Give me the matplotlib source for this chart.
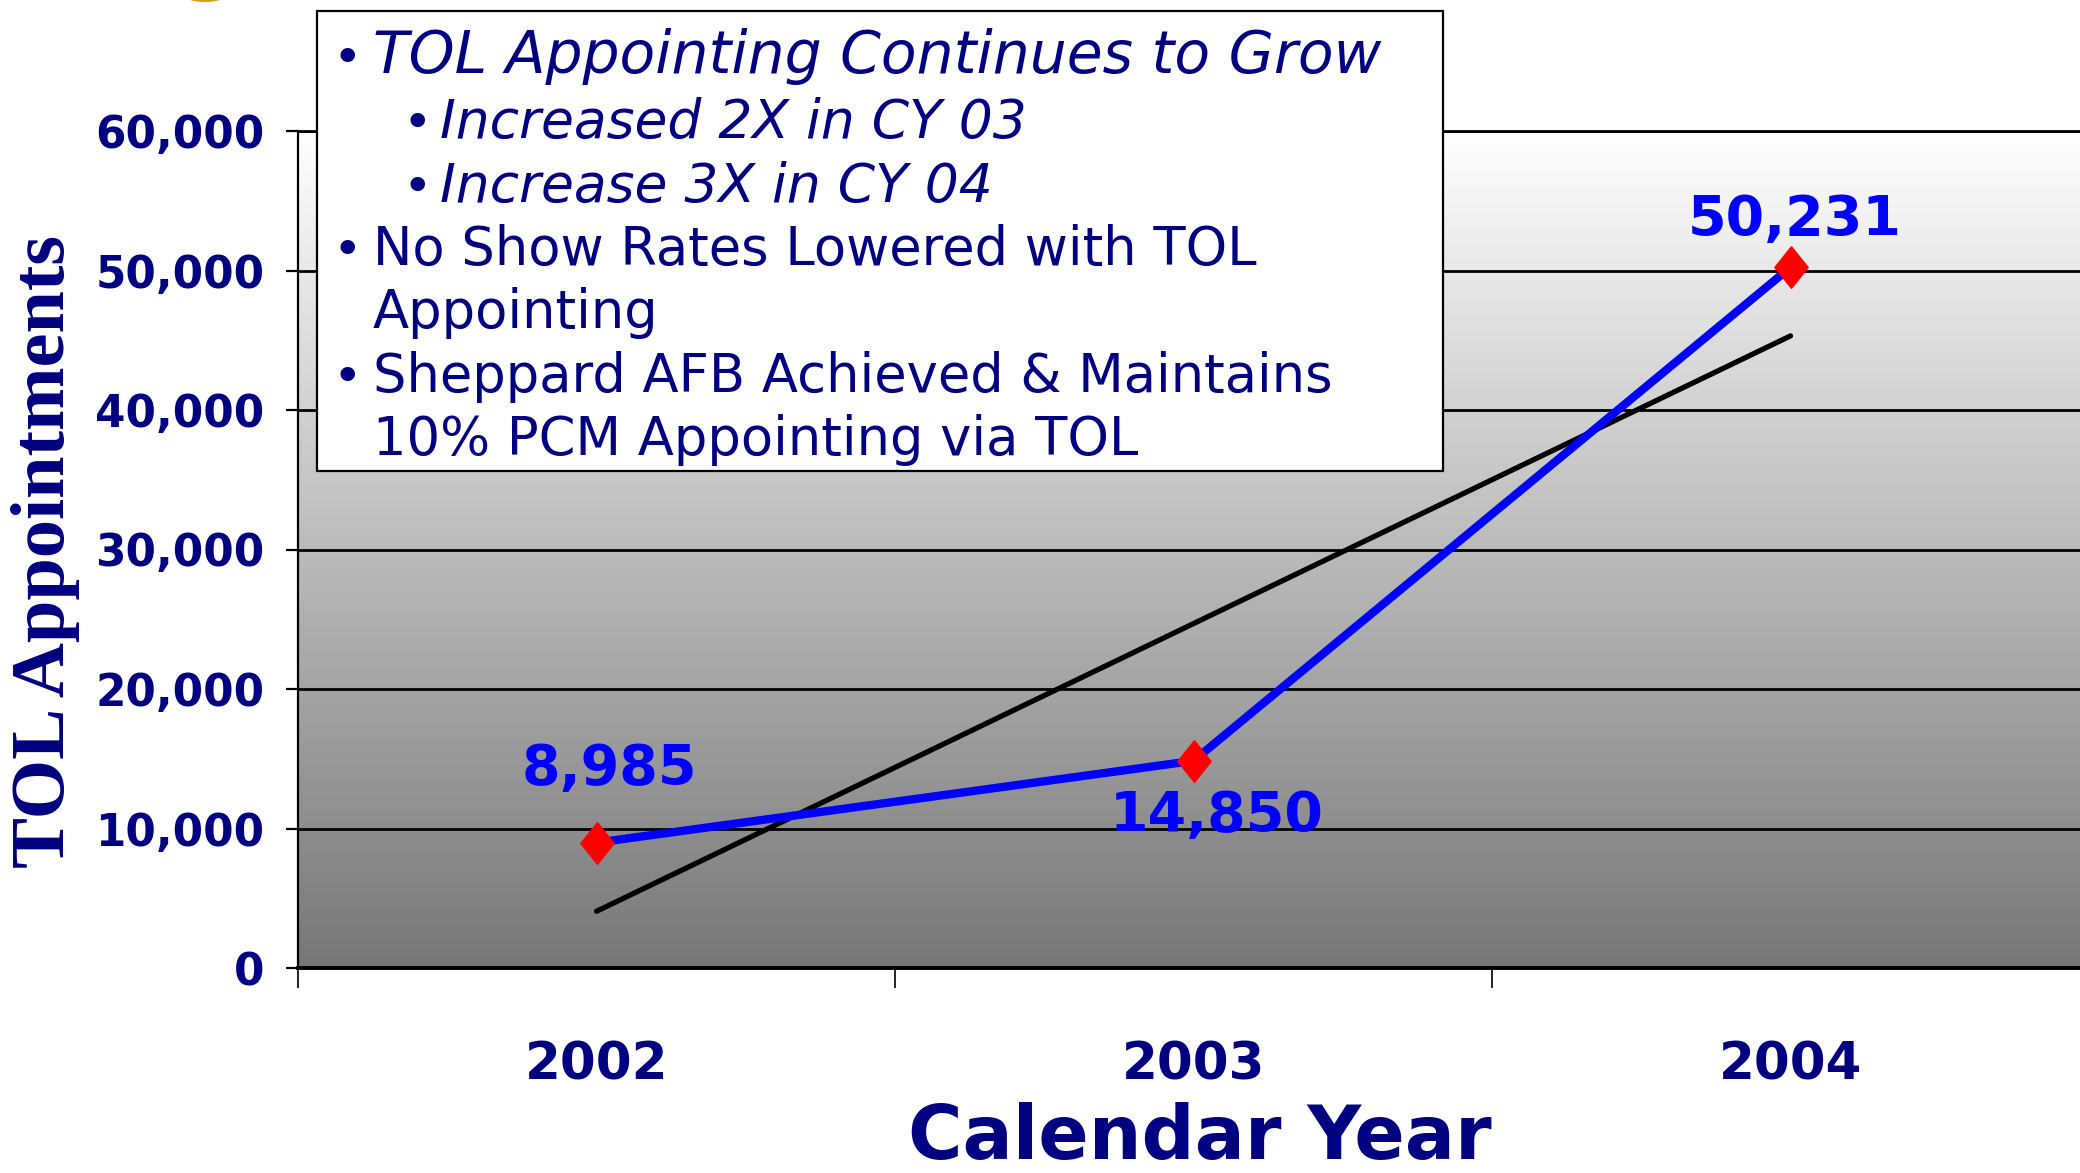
import numpy as np
import matplotlib.pyplot as plt
from matplotlib.patches import Rectangle, Ellipse
from matplotlib.colors import LinearSegmentedColormap

# chart data
years = ["2002", "2003", "2004"]
appointments = [8985, 14850, 50231]
point_labels = ["8,985", "14,850", "50,231"]
label_offsets = [(9, 53), (17, -40), (3, 34)]  # points, label centre vs marker

y_ticks = [0, 10000, 20000, 30000, 40000, 50000, 60000]
y_tick_labels = ["0", "10,000", "20,000", "30,000", "40,000", "50,000", "60,000"]

# text box: (text, indent level, italic, has bullet)
box_lines = [
    ("TOL Appointing Continues to Grow", 0, True, True),
    ("Increased 2X in CY 03", 1, True, True),
    ("Increase 3X in CY 04", 1, True, True),
    ("No Show Rates Lowered with TOL", 0, False, True),
    ("Appointing", 0, False, False),
    ("Sheppard AFB Achieved & Maintains", 0, False, True),
    ("10% PCM Appointing via TOL", 0, False, False),
]

W, H = 2080, 1173
navy = "#000080"
blue = "#0000FF"
red = "#FF0000"


def fx(px):
    return px / W


def fy(py):
    return 1 - py / H


fig = plt.figure(figsize=(W / 100, H / 100), dpi=100)
fig.patch.set_facecolor("white")

# axes runs a little past the right edge, as in the slide
ax = fig.add_axes([fx(298), fy(968), 1791 / W, (968 - 131) / H])

x = np.arange(len(years))

# grey gradient plot area
cmap = LinearSegmentedColormap.from_list("bg", ["#ffffff", "#777777"])
ax.imshow(np.linspace(0, 1, 256).reshape(-1, 1), extent=[-0.5, 2.5, 0, 60000],
          aspect="auto", cmap=cmap, zorder=0)

# linear trend
coef = np.polyfit(x, appointments, 1)
trend = np.polyval(coef, x)
ax.plot([x[0], x[-1]], [trend[0], trend[-1]], color="black", lw=3.8,
        solid_capstyle="round", zorder=3)

diamond = [(0, 1), (0.8, 0), (0, -1), (-0.8, 0), (0, 1)]
ax.plot(x, appointments, color=blue, lw=6, zorder=4)
ax.plot(x, appointments, ls="none", marker=diamond, ms=30, mfc=red, mec=red, zorder=5)

for xi, yi, lab, off in zip(x, appointments, point_labels, label_offsets):
    ax.annotate(lab, (xi, yi), xytext=off, textcoords="offset points",
                ha="center", va="center", color=blue, fontsize=40,
                fontweight="bold", zorder=6)

ax.set_xlim(-0.5, 2.5)
ax.set_ylim(0, 60000)

ax.set_yticks(y_ticks)
ax.set_yticklabels(y_tick_labels)
ax.yaxis.grid(True, color="black", lw=2)
ax.set_axisbelow(True)
ax.tick_params(axis="y", direction="out", length=9, width=1.6, pad=15,
               labelsize=31.5, labelcolor=navy)
for t in ax.get_yticklabels():
    t.set_fontweight("bold")

ax.set_xticks(x)
ax.set_xticklabels(years)
ax.set_xticks([-0.5, 0.5, 1.5, 2.5], minor=True)
ax.tick_params(axis="x", which="major", length=0, pad=52, labelsize=37, labelcolor=navy)
ax.tick_params(axis="x", which="minor", direction="out", length=14.4, width=1.2)
for t in ax.get_xticklabels():
    t.set_fontweight("bold")

ax.spines["right"].set_visible(False)
ax.spines["top"].set_linewidth(2)
ax.spines["left"].set_linewidth(1.6)
ax.spines["bottom"].set_linewidth(2.8)

# axis titles
fig.text(fx(1200), fy(1138), "Calendar Year", ha="center", va="center",
         fontsize=53.5, fontweight="bold", color=navy)
fig.text(fx(46), fy(552), "TOL Appointments", ha="center", va="center",
         rotation=90, fontsize=55, fontweight="bold", color=navy,
         family="Liberation Serif")

# bullet text box
fig.patches.append(Rectangle((fx(317), fy(471)), (1443 - 317) / W, (471 - 11) / H,
                             transform=fig.transFigure, facecolor="white",
                             edgecolor="black", lw=1.6, zorder=10))
baselines = [73, 138, 202, 265, 328, 392, 455]
for (txt, level, italic, bullet), base in zip(box_lines, baselines):
    bx = 333 if level == 0 else 403
    tx = 373 if level == 0 else 440
    if italic:
        size = 42 if level == 0 else 38.5
    else:
        size = 38
    if bullet:
        fig.text(fx(bx), fy(base), "\u2022", ha="left", va="baseline",
                 fontsize=36, color=navy, zorder=11)
    fig.text(fx(tx), fy(base), txt, ha="left", va="baseline", fontsize=size,
             color=navy, style="italic" if italic else "normal", zorder=11)

# corner of the seal, cut by the top edge
fig.patches.append(Ellipse((fx(205), fy(-52)), 2 * 52 / W, 2 * 52 / H,
                           transform=fig.transFigure, facecolor="#e8e4d8",
                           edgecolor="#d4a21c", lw=3))

fig.savefig("out.png", dpi=100)
